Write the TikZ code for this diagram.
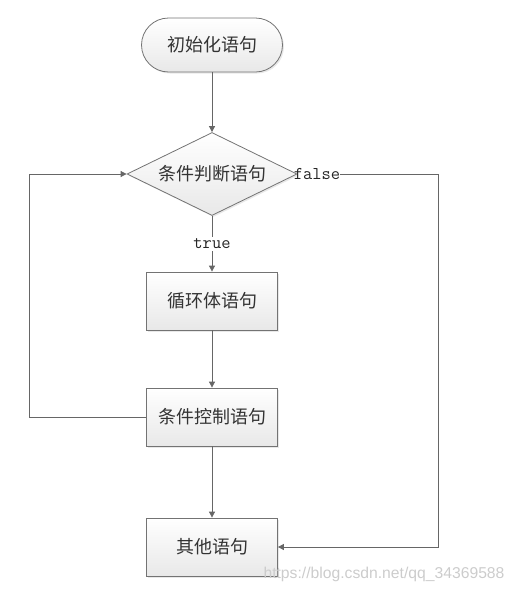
\documentclass[tikz,border=0pt]{standalone}
\usepackage{fontspec}
\newfontfamily\cjk{Noto Sans CJK SC}
\newfontfamily\wmfont{Liberation Sans}
\usepackage{tikz}
\usetikzlibrary{arrows.meta,shapes.geometric,shadows}

\begin{document}
\begin{tikzpicture}[x=1pt,y=-1pt,
    base/.style={draw=black!55, line width=0.8pt, top color=white, bottom color=black!9,
        drop shadow={opacity=0.18, shadow xshift=1.5pt, shadow yshift=-1.5pt},
        font=\cjk\fontsize{18}{18}\selectfont, text=black!80, inner sep=0pt},
    stepbox/.style={base, minimum width=131pt, minimum height=58pt},
    startbox/.style={base, rounded corners=27pt, minimum width=141pt, minimum height=54pt},
    testbox/.style={base, diamond, aspect=2.05, minimum width=170pt, minimum height=83pt},
    tag/.style={font=\ttfamily\fontsize{18}{18}\selectfont, text=black!85, inner sep=0pt},
    line/.style={draw=black!60, line width=0.8pt},
    arr/.style={line, -{Triangle[length=6pt,width=6pt]}}]

    \useasboundingbox (0,0) rectangle (515,592); % page size

    % Nodes
    \node[startbox] (init) at (212,45) {初始化语句}; % Start
    \node[testbox] (cond) at (212,174) {条件判断语句}; % Test
    \node[stepbox] (body) at (212,301) {循环体语句}; % Loop body
    \node[stepbox] (ctrl) at (212,417) {条件控制语句}; % Update
    \node[stepbox] (other) at (212,547) {其他语句}; % After loop

    % Labels
    \node[tag] (false) at (317,174) {false}; % Label false
    \node[tag, fill=white, inner sep=2pt] (true) at (212,244) {true}; % Label true

    % Corners
    \coordinate (fr) at (438,174); % right side
    \coordinate (lp) at (29,417); % left side

    % Connectors
    \draw[arr] (init) -- (cond); % start to test
    \draw[line] (cond) -- (true); % test to true
    \draw[arr] (true) -- (body); % true to body
    \draw[arr] (body) -- (ctrl); % body to update
    \draw[arr] (ctrl) -- (other); % update to after
    \draw[arr] (ctrl) -- (lp) |- (cond); % loop back
    \draw[arr] (false) -- (fr) |- (other); % false exit

    % Watermark
    \node[font=\wmfont\fontsize{15.7}{16}\selectfont, text=black!20, inner sep=0pt] (wm) at (384,574) {https://blog.csdn.net/qq\_34369588};

\end{tikzpicture}
\end{document}
